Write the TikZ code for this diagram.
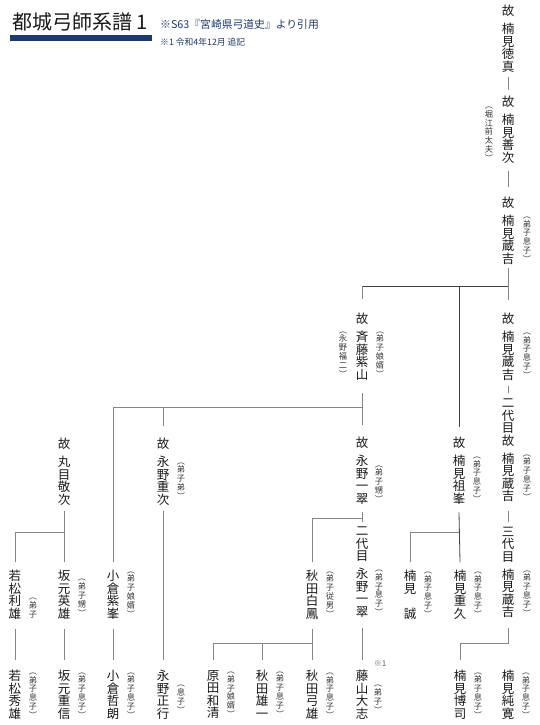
\documentclass[tikz,border=0pt]{standalone}
\usepackage{fontspec}
\setmainfont{Noto Sans CJK JP}
\definecolor{navy}{HTML}{1C3A6E}
\definecolor{linegray}{HTML}{858585}

% vertical text: one character per line, "." gives a small gap
\def\tatepitch{12.5pt}
\newcommand\tate[1]{\vbox{\baselineskip=\tatepitch\lineskiplimit=-\maxdimen\lineskip=0pt\tateloop#1\relax}}
\def\tateloop#1{\ifx\relax#1\else\ifx.#1\kern5.5pt\relax\else\hbox to 1em{\hss#1\hss}\fi\expandafter\tateloop\fi}

\tikzset{
  person/.style={anchor=north, inner sep=0pt, text=black!90,
    font={\fontsize{12.5}{12.5}\selectfont\def\tatepitch{12.5pt}}},
  memo/.style={anchor=south, inner sep=0pt, text=black!80,
    font={\fontsize{8.2}{8.2}\selectfont\def\tatepitch{8.8pt}}},
  link/.style={draw=linegray, line width=0.8pt},
  trunk/.style={draw=black!75, line width=0.8pt}
}

\begin{document}
\begin{tikzpicture}[x=1pt,y=-1pt]

\useasboundingbox (0,0) rectangle (540,725);

% Title
\node[anchor=west, inner sep=0pt, text=black!90, font=\fontsize{20}{20}\selectfont] (title) at (12,22) {都城弓師系譜 1};
\fill[navy] (10,35) rectangle (152,41);
\node[anchor=west, inner sep=0pt, text=navy, font=\fontsize{10.8}{10.8}\selectfont] (source) at (160,24) {※S63『宮崎県弓道史』より引用};
\node[anchor=west, inner sep=0pt, text=navy, font=\fontsize{8.8}{8.8}\selectfont] (addnote) at (160,42) {※1 令和4年12月 追記};

% Junction heights
\coordinate (j1) at (0,286);
\coordinate (j2) at (0,407);
\coordinate (j3) at (0,532);
\coordinate (j4) at (0,518);
\coordinate (j5) at (0,643);

% Right column
\node[person] (p1) at (508,5) {\tate{故.楠見徳真}};
\node[person] (p2) at (508,96) {\tate{故.楠見善次}};
\node[memo] (m2) at ([xshift=-19pt,yshift=2pt]p2.south) {\tate{︵堀江前太夫︶}};
\node[person] (p3) at (508,197) {\tate{故.楠見蔵吉}};
\node[memo] (m3) at ([xshift=19pt,yshift=2pt]p3.south) {\tate{︵弟子息子︶}};
\node[person] (p5) at (508,313) {\tate{故.楠見蔵吉}};
\node[memo] (m5) at ([xshift=19pt,yshift=2pt]p5.south) {\tate{︵弟子息子︶}};
\node[person] (p6) at (508,399) {\tate{二代目故.楠見蔵吉}};
\node[memo] (m6) at ([xshift=19pt,yshift=2pt]p6.south) {\tate{︵弟子息子︶}};
\node[person] (p7) at (508,527) {\tate{三代目.楠見蔵吉}};
\node[memo] (m7) at ([xshift=19pt,yshift=2pt]p7.south) {\tate{︵弟子息子︶}};

% Second generation
\node[person] (p4) at (362,313) {\tate{故.斉藤紫山}};
\node[memo] (m4a) at ([xshift=-19pt,yshift=3pt]p4.south) {\tate{︵永野福二︶}};
\node[memo] (m4b) at ([xshift=18pt,yshift=3pt]p4.south) {\tate{︵弟子娘婿︶}};

% Third row
\node[person] (p8) at (64,438) {\tate{故.丸目敬次}};
\node[person] (p9) at (163,438) {\tate{故.永野重次}};
\node[memo] (m9) at ([xshift=18pt,yshift=6pt]p9.south) {\tate{︵弟子弟︶}};
\node[person] (p10) at (362,437) {\tate{故.永野一翠}};
\node[memo] (m10) at ([xshift=17pt,yshift=2pt]p10.south) {\tate{︵弟子甥︶}};
\node[person] (p11) at (459,437) {\tate{故.楠見祖峯}};
\node[memo] (m11) at ([xshift=18pt,yshift=2pt]p11.south) {\tate{︵弟子息子︶}};

% Fourth row
\node[person] (q1) at (15,570) {\tate{若松利雄}};
\node[memo] (n1) at ([xshift=18pt,yshift=1pt]q1.south) {\tate{︵弟子}};
\node[person] (q2) at (64,570) {\tate{坂元英雄}};
\node[memo] (n2) at ([xshift=18pt,yshift=3pt]q2.south) {\tate{︵弟子甥︶}};
\node[person] (q3) at (113,570) {\tate{小倉紫峯}};
\node[memo] (n3) at ([xshift=18pt,yshift=2pt]q3.south) {\tate{︵弟子娘婿︶}};
\node[person] (q4) at (312,570) {\tate{秋田白鳳}};
\node[memo] (n4) at ([xshift=18pt,yshift=2pt]q4.south) {\tate{︵弟子従男︶}};
\node[person] (q5) at (362,527) {\tate{二代目.永野一翠}};
\node[memo] (n5) at ([xshift=17pt,yshift=2pt]q5.south) {\tate{︵弟子息子︶}};
\node[person] (q6) at (410,570) {\tate{楠見　誠}};
\node[memo] (n6) at ([xshift=18pt,yshift=2pt]q6.south) {\tate{︵弟子息子︶}};
\node[person] (q7) at (460,570) {\tate{楠見重久}};
\node[memo] (n7) at ([xshift=18pt,yshift=2pt]q7.south) {\tate{︵弟子息子︶}};

% Bottom row
\node[person] (r1) at (15,670) {\tate{若松秀雄}};
\node[memo] (s1) at ([xshift=18pt,yshift=1pt]r1.south) {\tate{︵弟子息子︶}};
\node[person] (r2) at (64,670) {\tate{坂元重信}};
\node[memo] (s2) at ([xshift=18pt,yshift=1pt]r2.south) {\tate{︵弟子息子︶}};
\node[person] (r3) at (113,670) {\tate{小倉哲朗}};
\node[memo] (s3) at ([xshift=18pt,yshift=1pt]r3.south) {\tate{︵弟子息子︶}};
\node[person] (r4) at (163,670) {\tate{永野正行}};
\node[memo] (s4) at ([xshift=18pt,yshift=6pt]r4.south) {\tate{︵息子︶}};
\node[person] (r5) at (213,670) {\tate{原田和清}};
\node[memo] (s5) at ([xshift=18pt,yshift=1pt]r5.south) {\tate{︵弟子娘婿︶}};
\node[person] (r6) at (262,670) {\tate{秋田雄一}};
\node[memo] (s6) at ([xshift=18pt,yshift=1pt]r6.south) {\tate{︵弟子息子︶}};
\node[person] (r7) at (312,670) {\tate{秋田弓雄}};
\node[memo] (s7) at ([xshift=18pt,yshift=1pt]r7.south) {\tate{︵弟子息子︶}};
\node[person] (r8) at (362,670) {\tate{藤山大志}};
\node[memo] (s8) at ([xshift=16pt,yshift=6pt]r8.south) {\tate{︵弟子︶}};
\node[inner sep=0pt, text=black!60, font=\fontsize{8}{8}\selectfont] (k1) at (380,664) {※1};
\node[person] (r9) at (460,670) {\tate{楠見博司}};
\node[memo] (s9) at ([xshift=18pt,yshift=1pt]r9.south) {\tate{︵弟子息子︶}};
\node[person] (r10) at (508,670) {\tate{楠見純寛}};
\node[memo] (s10) at ([xshift=18pt,yshift=1pt]r10.south) {\tate{︵弟子息子︶}};

% Connectors
\draw[link] ([yshift=-5pt]p1.south) -- ([yshift=6pt]p2.north);
\draw[link] ([yshift=-8pt]p2.south) -- ([yshift=10pt]p3.north);
\draw[link] ([yshift=-3pt]p3.south) -- ([yshift=13pt]p5.north);
\draw[trunk] (p4.north |- j1) -- (p5.north |- j1);
\draw[link] (p4.north |- j1) -- ([yshift=14pt]p4.north);
\draw[trunk] (p11.north |- j1) -- ([yshift=10pt]p11.north);
\draw[link] ([yshift=-5pt]p5.south) -- ([yshift=6pt]p6.north);
\draw[link] ([yshift=-9pt]p6.south) -- ([yshift=5pt]p7.north);

\draw[link] ([yshift=-13pt]p4.south) -- ([yshift=12pt]p10.north);
\draw[link] (p10.north |- j2) -| ([yshift=8pt]q3.north);
\draw[link] (p9.north |- j2) -- ([yshift=12pt]p9.north);
\draw[link] ([yshift=-6pt]p9.south) -- ([yshift=10pt]r4.north);

\draw[link] ([yshift=-6pt]p8.south) -- ([yshift=8pt]q2.north);
\draw[link] (p8.south |- j3) -| ([yshift=8pt]q1.north);
\draw[link] ([yshift=-8pt]p10.south) -- ([yshift=5pt]q5.north);
\draw[link] (p10.south |- j4) -| ([yshift=8pt]q4.north);
\draw[trunk] ([yshift=-8pt]p11.south) -- ([yshift=8pt]q7.north);
\draw[link] (p11.south |- j3) -| ([yshift=8pt]q6.north);

\foreach \a/\b in {q1/r1,q2/r2,q3/r3,q4/r7,q5/r8}{
    \draw[link] ([yshift=-10pt]\a.south) -- ([yshift=10pt]\b.north);
}
\draw[link] (q4.south |- j5) -| ([yshift=10pt]r5.north);
\draw[link] (r6.north |- j5) -- ([yshift=10pt]r6.north);
\draw[link] ([yshift=-10pt]p7.south) -- (p7.south |- j5) -| ([yshift=10pt]r9.north);

\end{tikzpicture}
\end{document}
